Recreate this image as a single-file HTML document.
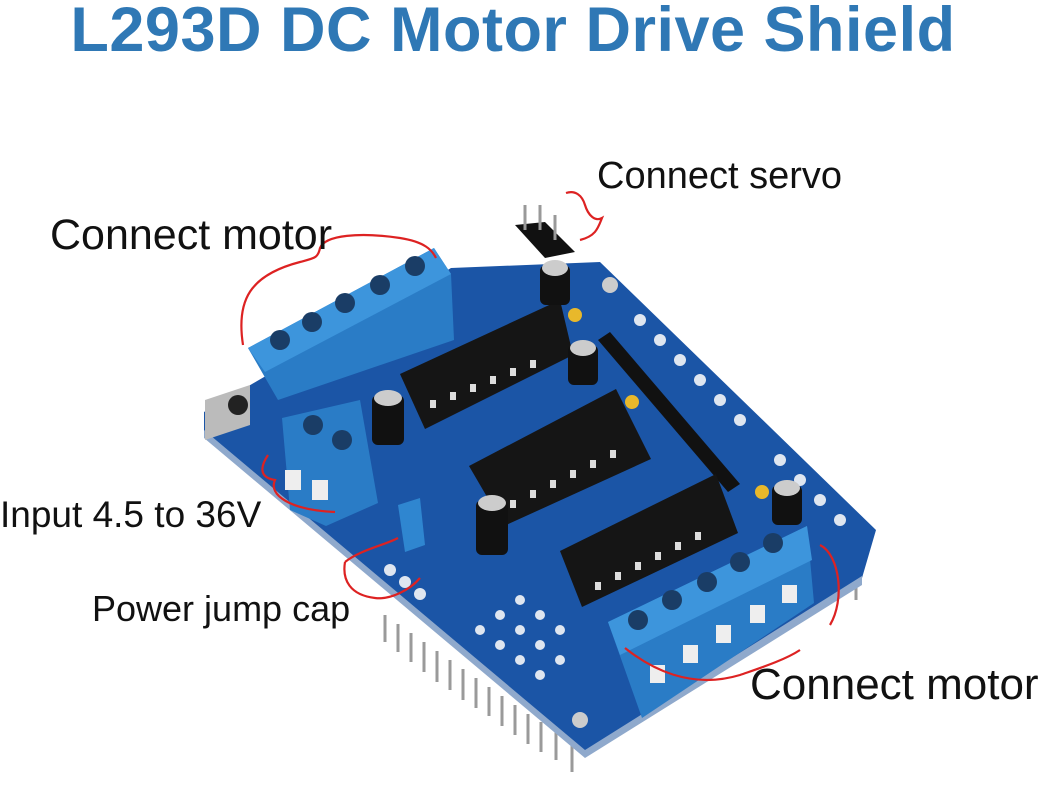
<!DOCTYPE html>
<html><head><meta charset="utf-8"><style>
body{margin:0;background:#fff;width:1042px;height:798px;overflow:hidden;position:relative;font-family:"Liberation Sans",sans-serif}
.t{position:absolute;white-space:nowrap;color:#111}
</style></head><body>
<svg width="1042" height="798" style="position:absolute;left:0;top:0">
<g stroke="#9a9a9a" stroke-width="3">
<line x1="385" y1="615" x2="385" y2="642"/><line x1="398" y1="624" x2="398" y2="652"/><line x1="411" y1="633" x2="411" y2="662"/><line x1="424" y1="642" x2="424" y2="672"/><line x1="437" y1="651" x2="437" y2="682"/><line x1="450" y1="660" x2="450" y2="690"/><line x1="463" y1="669" x2="463" y2="700"/><line x1="476" y1="678" x2="476" y2="708"/><line x1="489" y1="687" x2="489" y2="716"/><line x1="502" y1="696" x2="502" y2="726"/><line x1="515" y1="705" x2="515" y2="735"/><line x1="528" y1="714" x2="528" y2="744"/><line x1="541" y1="722" x2="541" y2="752"/><line x1="556" y1="731" x2="556" y2="760"/><line x1="572" y1="740" x2="572" y2="772"/><line x1="856" y1="570" x2="856" y2="600"/>
</g>
<polygon points="204,412 451,268 600,262 876,530 862,578 585,752 204,432" fill="#1b55a6"/>
<polygon points="204,430 585,750 862,576 862,585 585,758 204,438" fill="#8fa9cc"/>
<polygon points="205,400 250,385 250,425 205,440" fill="#bbb"/>
<circle cx="238" cy="405" r="10" fill="#222"/>
<polygon points="598,340 610,332 740,484 728,492" fill="#111"/>
<g fill="#dfe6f0">
<circle cx="640" cy="320" r="6"/><circle cx="660" cy="340" r="6"/><circle cx="680" cy="360" r="6"/><circle cx="700" cy="380" r="6"/><circle cx="720" cy="400" r="6"/><circle cx="740" cy="420" r="6"/><circle cx="780" cy="460" r="6"/><circle cx="800" cy="480" r="6"/><circle cx="820" cy="500" r="6"/><circle cx="840" cy="520" r="6"/>
<circle cx="520" cy="600" r="5"/><circle cx="540" cy="615" r="5"/><circle cx="560" cy="630" r="5"/><circle cx="500" cy="615" r="5"/><circle cx="520" cy="630" r="5"/><circle cx="540" cy="645" r="5"/><circle cx="560" cy="660" r="5"/><circle cx="480" cy="630" r="5"/><circle cx="500" cy="645" r="5"/><circle cx="520" cy="660" r="5"/><circle cx="540" cy="675" r="5"/>
<circle cx="390" cy="570" r="6"/><circle cx="405" cy="582" r="6"/><circle cx="420" cy="594" r="6"/><circle cx="580" cy="720" r="8" fill="#ccc"/><circle cx="610" cy="285" r="8" fill="#ccc"/>
</g>
<polygon points="400,374 560,300 573,355 425,429" fill="#151515"/>
<polygon points="469,466 616,389 651,459 504,526" fill="#151515"/>
<polygon points="560,551 716,474 738,533 582,607" fill="#151515"/>
<g fill="#ddd">
<rect x="430" y="400" width="6" height="8"/><rect x="450" y="392" width="6" height="8"/><rect x="470" y="384" width="6" height="8"/><rect x="490" y="376" width="6" height="8"/><rect x="510" y="368" width="6" height="8"/><rect x="530" y="360" width="6" height="8"/>
<rect x="510" y="500" width="6" height="8"/><rect x="530" y="490" width="6" height="8"/><rect x="550" y="480" width="6" height="8"/><rect x="570" y="470" width="6" height="8"/><rect x="590" y="460" width="6" height="8"/><rect x="610" y="450" width="6" height="8"/>
<rect x="595" y="582" width="6" height="8"/><rect x="615" y="572" width="6" height="8"/><rect x="635" y="562" width="6" height="8"/><rect x="655" y="552" width="6" height="8"/><rect x="675" y="542" width="6" height="8"/><rect x="695" y="532" width="6" height="8"/>
</g>
<g fill="#111"><rect x="540" y="265" width="30" height="40" rx="6"/><rect x="568" y="345" width="30" height="40" rx="6"/><rect x="372" y="395" width="32" height="50" rx="6"/><rect x="476" y="500" width="32" height="55" rx="6"/><rect x="772" y="485" width="30" height="40" rx="6"/></g>
<g fill="#ccc"><ellipse cx="555" cy="268" rx="13" ry="8"/><ellipse cx="583" cy="348" rx="13" ry="8"/><ellipse cx="388" cy="398" rx="14" ry="8"/><ellipse cx="492" cy="503" rx="14" ry="8"/><ellipse cx="787" cy="488" rx="13" ry="8"/></g>
<g fill="#e8b82b"><circle cx="575" cy="315" r="7"/><circle cx="632" cy="402" r="7"/><circle cx="762" cy="492" r="7"/></g>
<polygon points="515,225 545,222 575,252 545,258" fill="#111"/>
<g stroke="#999" stroke-width="3"><line x1="525" y1="205" x2="525" y2="230"/><line x1="540" y1="205" x2="540" y2="230"/><line x1="555" y1="215" x2="555" y2="240"/></g>
<polygon points="398,505 420,498 425,545 405,552" fill="#2f86d0"/>
<polygon points="248,348 434,248 451,274 454,340 278,400" fill="#2a7cc6"/>
<polygon points="248,348 434,248 451,274 265,372" fill="#3d95dc"/>
<g fill="#1a3d66"><circle cx="280" cy="340" r="10"/><circle cx="312" cy="322" r="10"/><circle cx="345" cy="303" r="10"/><circle cx="380" cy="285" r="10"/><circle cx="415" cy="266" r="10"/></g>
<polygon points="282,418 360,400 378,503 326,526 290,510" fill="#2a7cc6"/>
<g fill="#1a3d66"><circle cx="313" cy="425" r="10"/><circle cx="342" cy="440" r="10"/></g>
<g fill="#eee"><rect x="285" y="470" width="16" height="20"/><rect x="312" y="480" width="16" height="20"/></g>
<polygon points="608,622 807,526 814,603 642,718" fill="#2a7cc6"/>
<polygon points="608,622 807,526 812,560 620,655" fill="#3d95dc"/>
<g fill="#1a3d66"><circle cx="638" cy="620" r="10"/><circle cx="672" cy="600" r="10"/><circle cx="707" cy="582" r="10"/><circle cx="740" cy="562" r="10"/><circle cx="773" cy="543" r="10"/></g>
<g fill="#eee"><rect x="650" y="665" width="15" height="18"/><rect x="683" y="645" width="15" height="18"/><rect x="716" y="625" width="15" height="18"/><rect x="750" y="605" width="15" height="18"/><rect x="782" y="585" width="15" height="18"/></g>
<g fill="none" stroke="#d22" stroke-width="2.2">
<path d="M243,345 C236,300 250,275 300,262 C315,258 318,258 320,248 C325,235 360,232 400,238 C425,242 432,250 436,258"/>
<path d="M566,193 C575,190 582,195 585,205 C588,215 595,222 602,218 C598,228 596,236 580,240"/>
<path d="M268,455 C258,470 262,478 275,480 C268,495 290,510 335,512"/>
<path d="M345,562 C360,550 385,545 398,538 M345,562 C342,580 350,595 375,598 C390,600 410,590 420,578"/>
<path d="M625,648 C650,668 690,690 740,675 C760,668 785,660 800,650 M820,545 C840,555 845,600 830,625"/>
</g>
</svg>
<div class="t" style="left:0;width:1026px;text-align:center;top:-6px;font-size:63px;font-weight:bold;color:#2f78b5;letter-spacing:0.5px">L293D DC Motor Drive Shield</div>
<div class="t" style="left:50px;top:211px;font-size:43px">Connect motor</div>
<div class="t" style="left:597px;top:155px;font-size:38px">Connect servo</div>
<div class="t" style="left:0;top:494px;font-size:37px">Input 4.5 to 36V</div>
<div class="t" style="left:92px;top:588px;font-size:36px">Power jump cap</div>
<div class="t" style="left:750px;top:660px;font-size:44px">Connect motor</div>
</body></html>
